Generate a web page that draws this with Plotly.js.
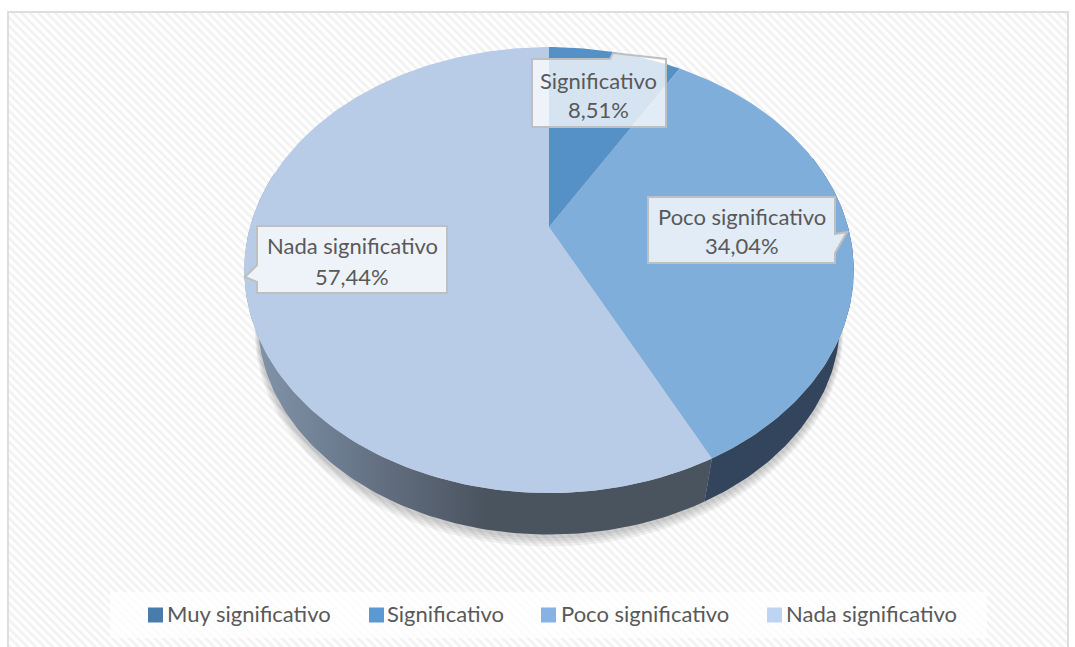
<!DOCTYPE html>
<html><head><meta charset="utf-8">
<script src="https://cdn.plot.ly/plotly-3.0.1.min.js"></script>
<style>html,body{margin:0;padding:0;background:#fff}#c{width:1075px;height:647px}svg text{font-variant-ligatures:none}</style></head>
<body><div id="c"></div>
<script>
const categories = ["Muy significativo","Significativo","Poco significativo","Nada significativo"];
const values = [0, 8.51, 34.04, 57.44];
const valueLabels = ["0,00%","8,51%","34,04%","57,44%"];
const topColors = ["#44779f","#5590c6","#80aedb","#b8cce7"];
const legendColors = ["#4a7cab","#5b99d3","#86b3e4","#bdd4f2"];
const legendSwatchX = [155.5,376.5,548.5,774.5];
const legendTextX = [167,387,561,786];
const FONT = "Lato, 'Noto Sans', sans-serif";
const TEXT = "#595959";

// tilted-disc projection: sheet position of a rim point at a clockwise angle from 12 o'clock
const cx=549, cy=227, a=214.7, b=299, k=0.193, sink=0.955, drop=53.5;
function rim(deg, s, d){
  const t=deg*Math.PI/180, X=Math.sin(t), Y=Math.cos(t), w=1+k*Y;
  return [cx+s*b*X/w, cy-s*a*Y/w+d];
}
function arc(from,to,s,d){
  const pts=[], n=Math.max(2,Math.ceil(Math.abs(to-from)));
  for(let i=0;i<=n;i++) pts.push(rim(from+(to-from)*i/n,s,d));
  return pts;
}
function poly(pts,extra){
  return Object.assign({type:"scatter",mode:"lines",x:pts.map(p=>p[0]),y:pts.map(p=>p[1]),
    fill:"toself",line:{width:0},hoverinfo:"skip",showlegend:false},extra);
}
const total=values.reduce((p,q)=>p+q,0);
const angles=[0]; values.forEach(v=>angles.push(angles[angles.length-1]+v/total*360));

const traces=[];
// sheet background
traces.push(poly([[8,12],[1068,12],[1068,660],[8,660]],{fillpattern:{shape:"\\",fgcolor:"#f2f2f2",bgcolor:"#ffffff",size:6,solidity:0.45},fillcolor:"#ffffff"}));
// legend backdrop
traces.push(poly([[110,592],[987,592],[987,638],[110,638]],{fillcolor:"rgba(255,255,255,0.75)"}));
// soft drop shadow under the disc
[9,7,5,3].forEach(e=>{
  traces.push(poly(arc(0,360,sink+e*0.0012,drop+e),{fillcolor:"rgba(0,0,0,0.05)"}));
});
// disc side: Nada then Poco
const seam=angles[3];
traces.push(poly(arc(seam,285,1,0).concat(arc(285,seam,sink,drop)),{
  fillgradient:{type:"horizontal",colorscale:[[0,"#8497ad"],[0.18,"#6f7f93"],[0.33,"#5f6a7b"],[0.52,"#4a545f"],[1,"#4a545f"]]}}));
traces.push(poly(arc(70,seam,1,0).concat(arc(seam,70,sink,drop)),{fillcolor:"#33455d"}));
// disc top
values.forEach((v,i)=>{
  const pts=[[cx,cy]].concat(arc(angles[i],angles[i+1],1,0));
  traces.push(poly(pts,{fillcolor:topColors[i]}));
});

const boxFill="rgba(255,255,255,0.76)", boxLine={color:"#bfbfbf",width:2};
const shapes=[
 {type:"rect",xref:"x",yref:"y",x0:8,x1:1068,y0:12,y1:660,line:{color:"#dedede",width:2},fillcolor:"rgba(0,0,0,0)",layer:"above"},
 {type:"path",xref:"x",yref:"y",path:"M532,59 L610,59 L613,53 L666,59 L666,127 L532,127 Z",fillcolor:boxFill,line:boxLine,layer:"above"},
 {type:"path",xref:"x",yref:"y",path:"M648,197 L835,197 L835,234 L847,232 L835,253 L835,263 L648,263 Z",fillcolor:boxFill,line:boxLine,layer:"above"},
 {type:"path",xref:"x",yref:"y",path:"M257,226 L447,226 L447,293 L257,293 L257,282 L245,277 L257,265 Z",fillcolor:boxFill,line:boxLine,layer:"above"}
];
const labelPos=[null,[598,80,109],[742,216,245],[352,245,276]];
const annotations=[];
categories.forEach((c,i)=>{
  if(!labelPos[i]) return;
  const p=labelPos[i];
  [[c,p[1]],[valueLabels[i],p[2]]].forEach(t=>{
    annotations.push({xref:"x",yref:"y",x:p[0],y:t[1],text:t[0],showarrow:false,xanchor:"center",yanchor:"middle",
      font:{family:FONT,size:22,color:TEXT}});
  });
});
const layout={
  width:1075,height:647,margin:{l:0,r:0,t:0,b:0},paper_bgcolor:"#ffffff",plot_bgcolor:"#ffffff",
  xaxis:{range:[0,1075],visible:false,fixedrange:true},
  yaxis:{range:[647,0],visible:false,fixedrange:true},
  showlegend:true,shapes,annotations,hovermode:false
};
// one legend per entry so each can sit at its own place; the swatch is a real point beside it
categories.forEach((c,i)=>{
  const key=i===0?"legend":"legend"+(i+1);
  traces.push({type:"scatter",mode:"markers",x:[null],y:[null],name:c,showlegend:true,legend:key,hoverinfo:"skip",
    marker:{symbol:"square",size:15,color:"rgba(0,0,0,0)",line:{width:0}}});
  traces.push({type:"scatter",mode:"markers",x:[legendSwatchX[i]],y:[615],showlegend:false,hoverinfo:"skip",
    marker:{symbol:"square",size:15,color:legendColors[i],line:{width:0}}});
  layout[key]={orientation:"h",x:(legendTextX[i]-40)/1075,xanchor:"left",y:1-614/647,yanchor:"middle",bgcolor:"rgba(0,0,0,0)",
    font:{family:FONT,size:22,color:TEXT},itemclick:false,itemdoubleclick:false};
});
Plotly.newPlot("c",traces,layout,{displayModeBar:false,staticPlot:true});
</script></body></html>
